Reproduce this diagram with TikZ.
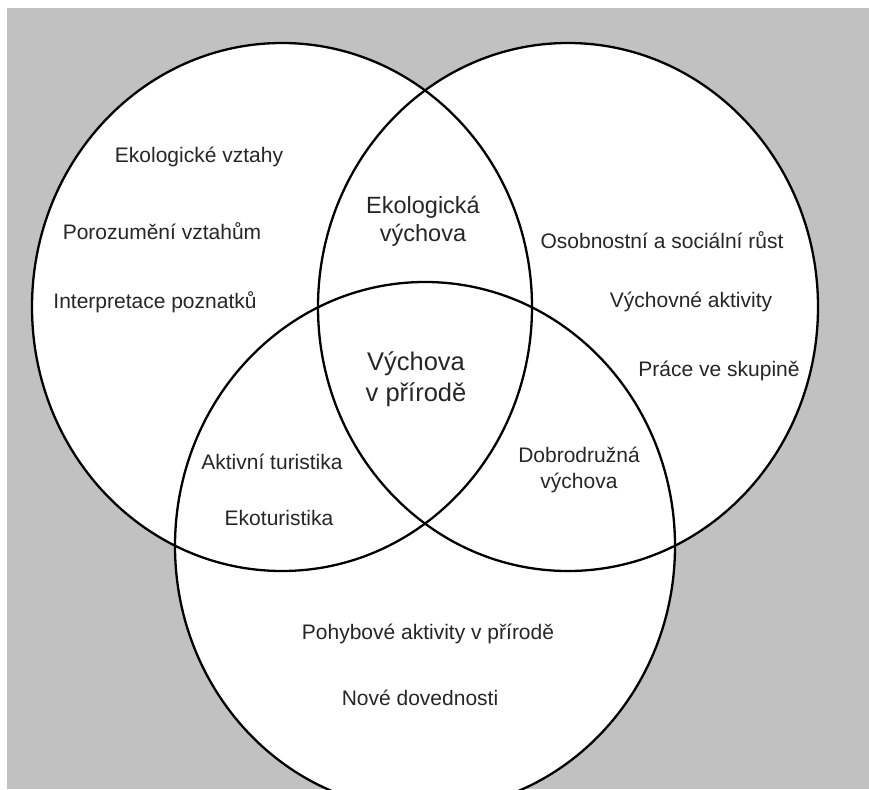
\documentclass[tikz,border=0pt]{standalone}
\usepackage{fontspec}
\setmainfont{Liberation Sans}
\definecolor{bggray}{RGB}{193,193,193}
\definecolor{txt}{RGB}{38,38,38}
\begin{document}
\begin{tikzpicture}[x=1pt,y=-1pt,
  ring/.style={line width=2.3pt,draw=black},
  lbl/.style={inner sep=0pt,text=txt,font=\fontsize{21}{26}\selectfont,align=center},
  mid/.style={inner sep=0pt,text=txt,font=\fontsize{23.5}{28.5}\selectfont,align=center},
  core/.style={inner sep=0pt,text=txt,font=\fontsize{25.5}{31}\selectfont,align=center}]
\useasboundingbox (0,0) rectangle (869,789);
\fill[white] (0,0) rectangle (869,789);
\fill[bggray] (7,8) rectangle (869,789);
\begin{scope}
\clip (0,0) rectangle (869,789);
\fill[white] (282,307) ellipse [x radius=250pt, y radius=264pt];
\fill[white] (568,307) ellipse [x radius=250pt, y radius=264pt];
\fill[white] (425,546) ellipse [x radius=250pt, y radius=264pt];
\draw[ring] (282,307) ellipse [x radius=250pt, y radius=264pt];
\draw[ring] (568,307) ellipse [x radius=250pt, y radius=264pt];
\draw[ring] (425,546) ellipse [x radius=250pt, y radius=264pt];
\end{scope}
\node[lbl] (ev) at (199,157) {Ekologické vztahy};
\node[lbl] (pv) at (162,231) {Porozumění vztahům};
\node[lbl] (ip) at (155,302) {Interpretace poznatků};
\node[mid] (ek) at (423,221.5) {Ekologická\\výchova};
\node[lbl] (os) at (662,240) {Osobnostní a sociální růst};
\node[lbl] (va) at (691,302) {Výchovné aktivity};
\node[lbl] (ps) at (719,371) {Práce ve skupině};
\node[core] (vp) at (416,379) {Výchova\\v přírodě};
\node[lbl] (at) at (272,462) {Aktivní turistika};
\node[lbl] (et) at (279,518) {Ekoturistika};
\node[lbl] (dv) at (579,470) {Dobrodružná\\výchova};
\node[lbl] (pa) at (428,634) {Pohybové aktivity v přírodě};
\node[lbl] (nd) at (420,698) {Nové dovednosti};
\end{tikzpicture}
\end{document}
